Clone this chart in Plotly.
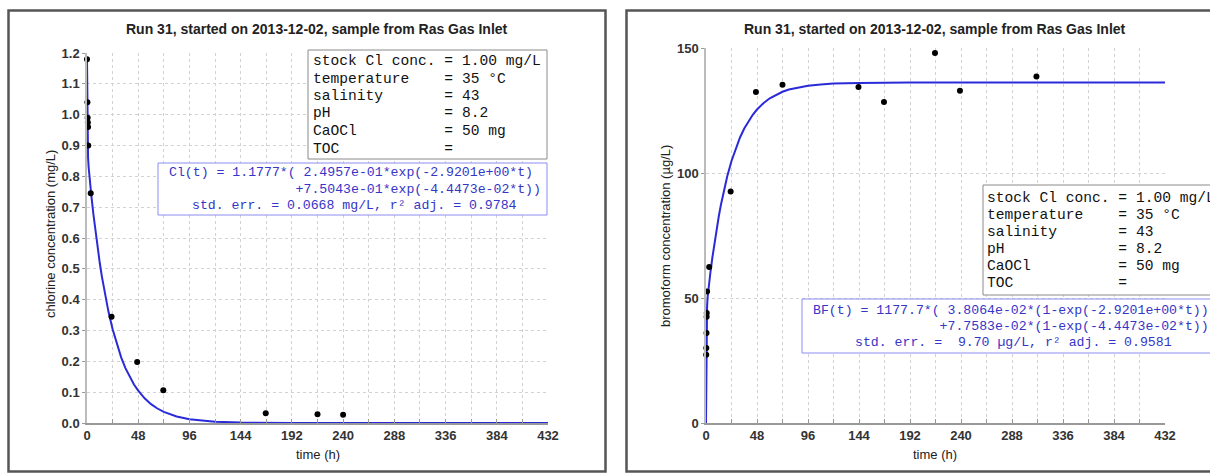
import plotly.graph_objects as go

W, H = 1210, 473

# ---------------- data ----------------
title_text = "Run 31, started on 2013-12-02, sample from Ras Gas Inlet"

# chlorine measurements (left panel)
cl_time = [0.0, 0.4, 0.6, 0.8, 1.0, 1.2, 3.5, 23.0, 47.0, 71.5, 167.5, 216.0, 240.0]
cl_conc = [1.18, 1.04, 0.99, 0.975, 0.96, 0.90, 0.745, 0.345, 0.198, 0.106, 0.032, 0.028, 0.027]

# chlorine fitted curve
cl_fit_t = [0, 0.1, 0.25, 0.5, 0.75, 1, 1.5, 2, 3, 4, 6, 8, 10, 12, 14, 16, 20, 24, 28, 32, 36, 40,
            44, 48, 54, 60, 66, 72, 78, 84, 96, 108, 120, 144, 192, 432]
cl_fit_v = [1.178, 1.099, 1.016, 0.933, 0.888, 0.861, 0.831, 0.809, 0.774, 0.740, 0.677, 0.619,
            0.567, 0.518, 0.474, 0.434, 0.363, 0.304, 0.254, 0.213, 0.178, 0.149, 0.125, 0.105,
            0.080, 0.061, 0.047, 0.036, 0.028, 0.021, 0.012, 0.007, 0.004, 0.0015, 0.0002, 0.0]

# bromoform measurements (right panel)
bf_time = [0.2, 0.3, 0.5, 0.6, 0.7, 1.0, 3.0, 23.2, 47.0, 72.0, 143.5, 167.5, 215.5, 239.0, 311.0]
bf_conc = [27.3, 30.0, 36.0, 42.5, 44.0, 52.6, 62.4, 92.6, 132.4, 135.3, 134.4, 128.4, 148.0, 132.9, 138.6]

# bromoform fitted curve
bf_fit_t = [0, 0.1, 0.25, 0.5, 0.75, 1, 1.5, 2, 3, 4, 6, 8, 10, 12, 14, 16, 20, 24, 28, 32, 36, 40,
            44, 48, 54, 60, 66, 72, 78, 84, 96, 108, 120, 144, 192, 432]
bf_fit_v = [0.0, 11.8, 24.2, 36.4, 42.8, 46.4, 50.2, 52.5, 56.2, 59.7, 66.2, 72.2, 77.6, 82.6, 87.2,
            91.3, 98.7, 104.8, 109.9, 114.2, 117.8, 120.8, 123.3, 125.4, 127.9, 129.9, 131.3,
            132.5, 133.4, 134.0, 134.9, 135.4, 135.8, 136.0, 136.2, 136.2]

info_lines = [
    "stock Cl conc. = 1.00 mg/L",
    "temperature    = 35 °C",
    "salinity       = 43",
    "pH             = 8.2",
    "CaOCl          = 50 mg",
    "TOC            =",
]
cl_formula = [
    "Cl(t) = 1.1777*( 2.4957e-01*exp(-2.9201e+00*t)",
    "                +7.5043e-01*exp(-4.4473e-02*t))",
    "std. err. = 0.0668 mg/L, r² adj. = 0.9784",
]
bf_formula = [
    "BF(t) = 1177.7*( 3.8064e-02*(1-exp(-2.9201e+00*t))",
    "                +7.7583e-02*(1-exp(-4.4473e-02*t)))",
    "std. err. =  9.70 µg/L, r² adj. = 0.9581",
]

x_ticks = [0, 48, 96, 144, 192, 240, 288, 336, 384, 432]

# ---------------- helpers ----------------
def px(x):
    return x / W

def py(y):
    return 1 - y / H

BLUE = "#2a2ad8"
TXTBLUE = "#3535c8"
GRID = "#d2d2d2"
SANS = "Liberation Sans, Arial, sans-serif"
MONO = "Liberation Mono, Courier New, monospace"

fig = go.Figure()

fig.add_trace(go.Scatter(x=cl_fit_t, y=cl_fit_v, mode="lines", line=dict(color=BLUE, width=2),
                         xaxis="x", yaxis="y", showlegend=False, hoverinfo="skip"))
fig.add_trace(go.Scatter(x=cl_time, y=cl_conc, mode="markers", marker=dict(color="black", size=6),
                         xaxis="x", yaxis="y", showlegend=False, cliponaxis=False))
fig.add_trace(go.Scatter(x=bf_fit_t, y=bf_fit_v, mode="lines", line=dict(color=BLUE, width=2),
                         xaxis="x2", yaxis="y2", showlegend=False, hoverinfo="skip"))
fig.add_trace(go.Scatter(x=bf_time, y=bf_conc, mode="markers", marker=dict(color="black", size=6),
                         xaxis="x2", yaxis="y2", showlegend=False, cliponaxis=False))

tickfont = dict(family=SANS, size=13, color="#333", weight="bold")

def xaxis_cfg(domain, anchor):
    return dict(domain=domain, anchor=anchor, range=[0, 432], tickvals=x_ticks,
                ticks="inside", ticklen=4, tickcolor="#999", tickfont=tickfont,
                showgrid=True, gridcolor=GRID, griddash="dot", gridwidth=1,
                minor=dict(dtick=24, tick0=0, showgrid=True, gridcolor=GRID, griddash="dot",
                           ticks="inside", ticklen=4, tickcolor="#999"),
                showline=True, linecolor="#999", linewidth=1.5, zeroline=False,
                automargin=False, fixedrange=True)

def yaxis_cfg(domain, anchor, rng, dtick, fmt):
    return dict(domain=domain, anchor=anchor, range=rng, dtick=dtick, tick0=0, tickformat=fmt,
                ticks="outside", ticklen=3, tickcolor="#999", tickfont=tickfont,
                showgrid=True, gridcolor=GRID, griddash="dot", gridwidth=1,
                showline=True, linecolor="#bbb", linewidth=1.5, zeroline=False,
                automargin=False, fixedrange=True)

fig.update_layout(
    width=W, height=H,
    margin=dict(l=0, r=0, t=0, b=0, pad=0),
    paper_bgcolor="white", plot_bgcolor="white",
    xaxis=xaxis_cfg([px(87), px(548)], "y"),
    yaxis=yaxis_cfg([py(423), py(53)], "x", [0, 1.2], 0.1, ".1f"),
    xaxis2=xaxis_cfg([px(706), px(1165)], "y2"),
    yaxis2=yaxis_cfg([py(423), py(48)], "x2", [0, 150], 50, "d"),
    showlegend=False,
)

shapes = []
annots = []

# outer frames
shapes.append(dict(type="rect", xref="paper", yref="paper", x0=px(8.5), x1=px(605.5), y0=py(471.5), y1=py(10.5),
                   line=dict(color="#555", width=2.5), fillcolor="rgba(0,0,0,0)", layer="below"))
shapes.append(dict(type="rect", xref="paper", yref="paper", x0=px(626.5), x1=px(1240), y0=py(471.5), y1=py(10.5),
                   line=dict(color="#555", width=2.5), fillcolor="rgba(0,0,0,0)", layer="below"))

# titles
for cx in (317, 935):
    annots.append(dict(xref="paper", yref="paper", x=px(cx), y=py(29), text=title_text, showarrow=False,
                       xanchor="center", yanchor="middle", font=dict(family=SANS, size=14, color="#222", weight="bold")))
# axis titles
for cx in (318, 935):
    annots.append(dict(xref="paper", yref="paper", x=px(cx), y=py(454), text="time (h)", showarrow=False,
                       xanchor="center", yanchor="middle", font=dict(family=SANS, size=13, color="#222")))
annots.append(dict(xref="paper", yref="paper", x=px(50), y=py(234), text="chlorine concentration (mg/L)",
                   showarrow=False, textangle=-90, xanchor="center", yanchor="middle",
                   font=dict(family=SANS, size=13, color="#222")))
annots.append(dict(xref="paper", yref="paper", x=px(665), y=py(236), text="bromoform concentration (µg/L)",
                   showarrow=False, textangle=-90, xanchor="center", yanchor="middle",
                   font=dict(family=SANS, size=13, color="#222")))

def nb(s):
    return s.replace(" ", "\u00a0")

def box(x0, x1, y0, y1, color):
    shapes.append(dict(type="rect", xref="paper", yref="paper", x0=px(x0), x1=px(x1), y0=py(y1), y1=py(y0),
                       line=dict(color=color, width=1), fillcolor="white", layer="above"))

def lines(x, ys, texts, size, color):
    for yy, t in zip(ys, texts):
        annots.append(dict(xref="paper", yref="paper", x=px(x), y=py(yy), text=nb(t), showarrow=False,
                           xanchor="left", yanchor="middle",
                           font=dict(family=MONO, size=size, color=color)))

# left info box
box(308, 547, 50, 159, "#8a8a8a")
lines(311, [61, 78.5, 96, 113.5, 131, 148.5], info_lines, 14.6, "#111")
# left formula box
box(158, 547, 163, 215, "#8c8cf0")
lines(167, [173, 189], cl_formula[:2], 13.2, TXTBLUE)
lines(190, [205], [cl_formula[2]], 13.2, TXTBLUE)

# right info box
box(983, 1240, 185, 295, "#8a8a8a")
lines(985, [198, 215, 232, 249, 266, 283], info_lines, 14.6, "#111")
# right formula box
box(802, 1240, 299, 353, "#8c8cf0")
lines(811, [310, 326], bf_formula[:2], 13.2, TXTBLUE)
lines(853, [342], [bf_formula[2]], 13.2, TXTBLUE)

fig.update_layout(shapes=shapes, annotations=annots)
fig.write_html("out.html", config={"displayModeBar": False},
               post_script="document.body.style.margin='0';document.body.style.overflow='hidden';")
